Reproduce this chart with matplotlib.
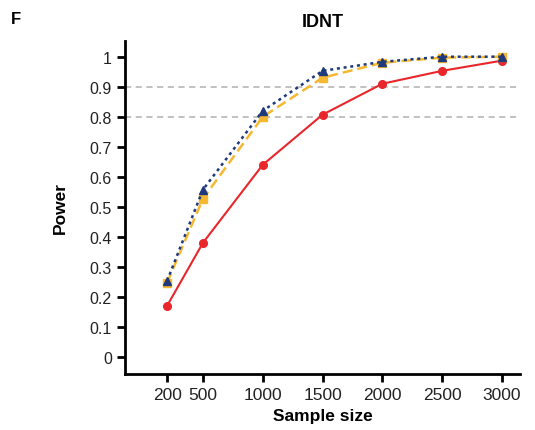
import matplotlib
matplotlib.use("Agg")
import matplotlib.pyplot as plt

plt.rcParams["font.family"] = ["Liberation Sans", "DejaVu Sans"]

sample_size = [200, 500, 1000, 1500, 2000, 2500, 3000]
power_red = [0.17, 0.38, 0.64, 0.807, 0.91, 0.953, 0.987]
power_yellow = [0.247, 0.527, 0.80, 0.93, 0.98, 0.997, 1.0]
power_blue = [0.253, 0.557, 0.82, 0.953, 0.983, 1.0, 1.0]
y_ticks = [0, 0.1, 0.2, 0.3, 0.4, 0.5, 0.6, 0.7, 0.8, 0.9, 1]
y_labels = ["0", "0.1", "0.2", "0.3", "0.4", "0.5", "0.6", "0.7", "0.8", "0.9", "1"]

fig = plt.figure(figsize=(5.35, 4.31), dpi=100)
ax = fig.add_axes([0.234, 0.130, 0.738, 0.773])

for yv in [0.8, 0.9]:
    ax.axhline(yv, color="#b0b0b0", linestyle=(0, (4, 3)), linewidth=1.1, zorder=1)

ax.plot(sample_size, power_red, color="#e8262b", linewidth=1.5, marker="o",
        markersize=5.5, zorder=3)
ax.plot(sample_size, power_yellow, color="#f6b830", linewidth=1.8, linestyle=(0, (4, 2)),
        marker="s", markersize=5.5, zorder=4)
ax.plot(sample_size, power_blue, color="#1f3a7c", linewidth=1.8, linestyle=(0, (1.2, 1.5)),
        marker="^", markersize=5.5, zorder=5)

ax.set_xlim(-150, 3150)
ax.set_ylim(-0.057, 1.053)
ax.set_xticks(sample_size)
ax.set_xticklabels([str(s) for s in sample_size], fontsize=12.5, color="#222222")
ax.set_yticks(y_ticks)
ax.set_yticklabels(y_labels, fontsize=11.5, color="#222222")

for side in ["top", "right"]:
    ax.spines[side].set_visible(False)
for side in ["left", "bottom"]:
    ax.spines[side].set_linewidth(2)
ax.tick_params(width=2, length=6)

ax.set_xlabel("Sample size", fontsize=12.5, fontweight="bold", labelpad=4)
ax.set_ylabel("Power", fontsize=12.5, fontweight="bold", labelpad=16)
ax.set_title("IDNT", fontsize=13, fontweight="bold", pad=11)
fig.text(0.02, 0.955, "F", fontsize=12, fontweight="bold", ha="left", va="center")

fig.savefig("out.png", dpi=100)
